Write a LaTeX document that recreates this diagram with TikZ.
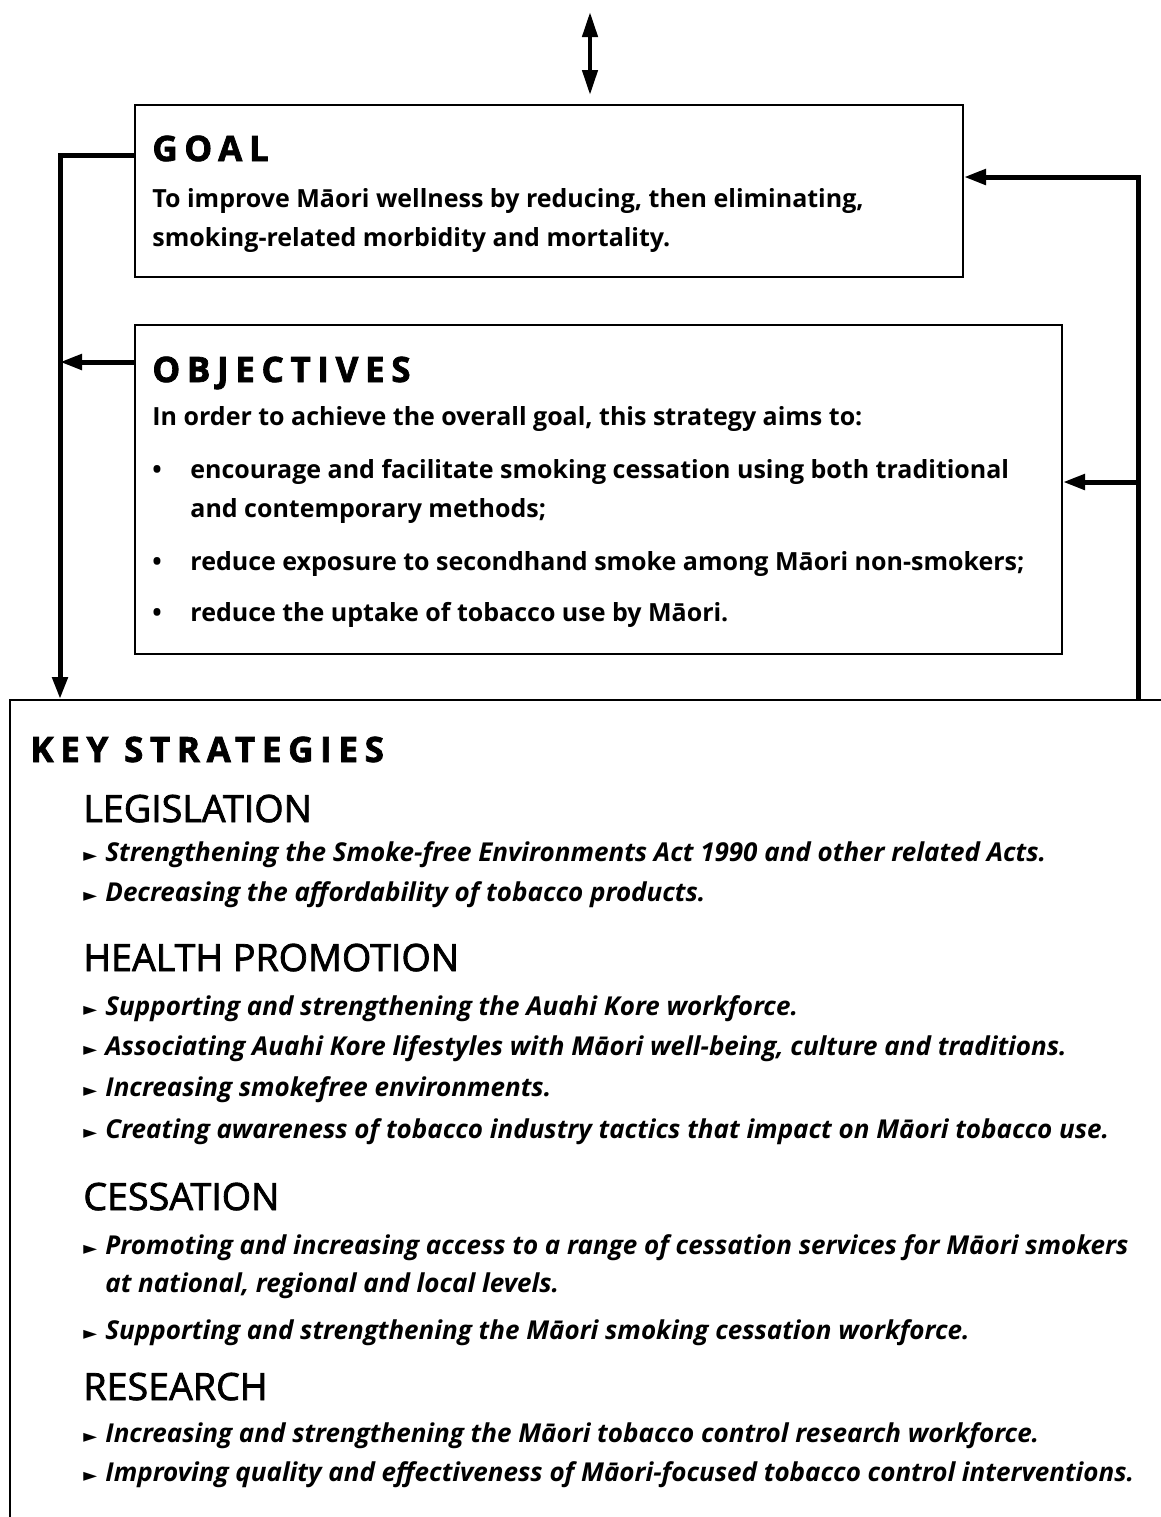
\documentclass[tikz,border=0pt]{standalone}
\usepackage{fontspec}
\setmainfont{Open Sans}
\newfontfamily\headfont{Open Sans}[LetterSpace=19,FakeBold=2]
\newfontfamily\groupfont{Open Sans}[FakeBold=2]
\newfontfamily\symfont{DejaVu Sans}
\usetikzlibrary{arrows.meta}
\usetikzlibrary{fit}
\usetikzlibrary{positioning}

\newcommand\blt{\llap{\makebox[19pt][l]{\textbullet}}}
\newcommand\tri{\llap{\makebox[11pt][l]{{\symfont\fontsize{9pt}{9pt}\selectfont ►}}}}

\tikzset{
  box/.style={draw,line width=1pt,inner sep=0pt},
  link/.style={line width=2.5pt,-{Triangle[length=11pt,width=7.5pt]}},
  txt/.style={anchor=base west,inner sep=0pt,align=left},
  title/.style={txt,font=\headfont\fontsize{17.5pt}{17.5pt}\selectfont\bfseries},
  body/.style={txt,font=\fontsize{12.5pt}{19.3pt}\selectfont\bfseries},
  group/.style={txt,font=\groupfont\fontsize{18.8pt}{18.8pt}\selectfont},
  item/.style={txt,font=\fontsize{13pt}{19pt}\selectfont\bfseries\itshape},
}

\begin{document}
\begin{tikzpicture}[x=0.5pt,y=-0.5pt]
    \useasboundingbox (0,0) rectangle (1161,1517);

    % boxes
    \node[box,fit={(135,105) (963,277)}] (goal) {};
    \node[box,fit={(135,325) (1062,654)}] (obj) {};
    \node[box,fit={(10,700) (1180,1540)}] (key) {};

    % goal
    \node[title] (goal-t) at (152,161) {GOAL};
    \node[body] (goal-b) at (152,246) {To improve Māori wellness by reducing, then eliminating,\\smoking-related morbidity and mortality.};

    % objectives
    \node[title] (obj-t) at (152,382) {OBJECTIVES};
    \node[body] (obj-b) at (152,425) {In order to achieve the overall goal, this strategy aims to:};
    \node[body] (obj-1) at (190,517) {\blt encourage and facilitate smoking cessation using both traditional\\and contemporary methods;};
    \node[body] (obj-2) at (190,570) {\blt reduce exposure to secondhand smoke among Māori non-smokers;};
    \node[body] (obj-3) at (190,621) {\blt reduce the uptake of tobacco use by Māori.};

    % key strategies
    \node[title] (key-t) at (30,762) {KEY STRATEGIES};

    \node[group] (leg) at (83,822) {LEGISLATION};
    \node[item] (leg-1) at (105,861) {\tri Strengthening the Smoke-free Environments Act 1990 and other related Acts.};
    \node[item] (leg-2) at (105,901) {\tri Decreasing the affordability of tobacco products.};

    \node[group] (hp) at (83,971) {HEALTH PROMOTION};
    \node[item] (hp-1) at (105,1015) {\tri Supporting and strengthening the Auahi Kore workforce.};
    \node[item] (hp-2) at (105,1055) {\tri Associating Auahi Kore lifestyles with Māori well-being, culture and traditions.};
    \node[item] (hp-3) at (105,1096) {\tri Increasing smokefree environments.};
    \node[item] (hp-4) at (105,1138) {\tri Creating awareness of tobacco industry tactics that impact on Māori tobacco use.};

    \node[group] (ces) at (83,1210) {CESSATION};
    \node[item] (ces-1) at (105,1292) {\tri Promoting and increasing access to a range of cessation services for Māori smokers\\at national, regional and local levels.};
    \node[item] (ces-2) at (105,1339) {\tri Supporting and strengthening the Māori smoking cessation workforce.};

    \node[group] (res) at (83,1400) {RESEARCH};
    \node[item] (res-1) at (105,1442) {\tri Increasing and strengthening the Māori tobacco control research workforce.};
    \node[item] (res-2) at (105,1481) {\tri Improving quality and effectiveness of Māori-focused tobacco control interventions.};

    % connectors
    \coordinate (top-a) at (590,12);
    \coordinate (top-b) at (590,95);
    \coordinate (goal-out) at (135,155);
    \coordinate (lbend) at (60,155);
    \coordinate (obj-out) at (135,362);
    \coordinate (rbend) at (1138,177);
    \coordinate (rjoin) at (1138,482);

    \draw[link,line width=2.2pt,{Triangle[length=12.5pt,width=7.5pt]}-{Triangle[length=12.5pt,width=7.5pt]}] (top-a) -- (top-b);
    \draw[link] (goal-out) -- (lbend) -- (lbend |- key.north);
    \draw[link] (obj-out) -- (obj-out -| lbend);
    \draw[link] (rbend |- key.north) -- (rbend) -- (rbend -| goal.east);
    \draw[link] (rjoin) -- (rjoin -| obj.east);
  \end{tikzpicture}
\end{document}
